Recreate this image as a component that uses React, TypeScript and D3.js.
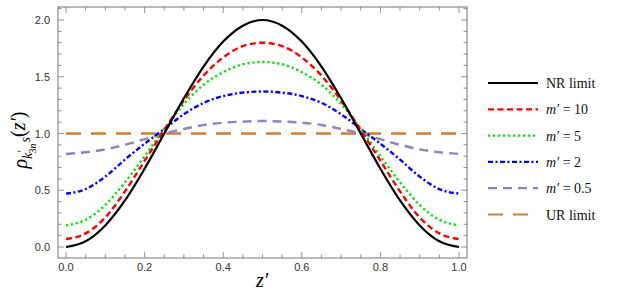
import React from 'react'
import * as d3 from 'd3'

// z' sample points (0 .. 1 step 0.05)
const zVals = [0, 0.05, 0.1, 0.15, 0.2, 0.25, 0.3, 0.35, 0.4, 0.45, 0.5,
  0.55, 0.6, 0.65, 0.7, 0.75, 0.8, 0.85, 0.9, 0.95, 1]

const nrLimit = [0, 0.05, 0.19, 0.41, 0.69, 1.0, 1.31, 1.59, 1.81, 1.95, 2.0,
  1.95, 1.81, 1.59, 1.31, 1.0, 0.69, 0.41, 0.19, 0.05, 0]
const m10 = [0.07, 0.12, 0.26, 0.49, 0.76, 1.03, 1.29, 1.51, 1.67, 1.77, 1.8,
  1.77, 1.67, 1.51, 1.29, 1.03, 0.76, 0.49, 0.26, 0.12, 0.07]
const m5 = [0.19, 0.24, 0.37, 0.57, 0.8, 1.04, 1.26, 1.43, 1.54, 1.61, 1.63,
  1.61, 1.54, 1.43, 1.26, 1.04, 0.8, 0.57, 0.37, 0.24, 0.19]
const m2 = [0.47, 0.51, 0.62, 0.77, 0.91, 1.04, 1.17, 1.27, 1.33, 1.36, 1.37,
  1.36, 1.33, 1.27, 1.17, 1.04, 0.91, 0.77, 0.62, 0.51, 0.47]
const m05 = [0.82, 0.835, 0.86, 0.9, 0.95, 1.0, 1.04, 1.075, 1.095, 1.105, 1.11,
  1.105, 1.095, 1.075, 1.04, 1.0, 0.95, 0.9, 0.86, 0.835, 0.82]
const urLimit = [1, 1, 1, 1, 1, 1, 1, 1, 1, 1, 1,
  1, 1, 1, 1, 1, 1, 1, 1, 1, 1]

const xTickLabels = ['0.0', '0.2', '0.4', '0.6', '0.8', '1.0']
const yTickLabels = ['0.0', '0.5', '1.0', '1.5', '2.0']

const series = [
  { name: 'NR limit', values: nrLimit, color: '#000000', dash: '', math: false },
  { name: '10', values: m10, color: '#ff0000', dash: '6,3.5', math: true },
  { name: '5', values: m5, color: '#00e600', dash: '2.2,2.8', math: true },
  { name: '2', values: m2, color: '#0000ff', dash: '5,2.5,2,2.5', math: true },
  { name: '0.5', values: m05, color: '#8c84c4', dash: '9,6', math: true },
  { name: 'UR limit', values: urLimit, color: '#cc8033', dash: '15,10', math: false },
]

const serif = 'Liberation Serif, DejaVu Serif, Times New Roman, serif'
const tickFont = 'Liberation Sans, Arial, sans-serif'

const App = () => {
  const x = d3.scaleLinear().domain([0, 1]).range([66, 459])
  const y = d3.scaleLinear().domain([0, 2]).range([247, 20])
  const frame = { left: 58, right: 467, top: 7, bottom: 258 }

  const line = (vals: number[]) =>
    d3.line<number>()
      .x((_, i) => x(zVals[i]))
      .y(d => y(d))
      .curve(d3.curveMonotoneX)(vals) || ''

  const xMinor = d3.range(0, 21).map(i => i * 0.05)
  const yMinor = d3.range(0, 22).map(i => i * 0.1)
  const tickCol = '#777'

  return (
    <svg width={623} height={292} style={{ position: 'absolute', left: 0, top: 0 }}>
      <rect width={623} height={292} fill="white" />
      <g>
        {series.slice().reverse().map(s => (
          <path key={s.name} d={line(s.values)} fill="none" stroke={s.color}
            strokeWidth={s.name === 'NR limit' ? 2.2 : 2.4} strokeDasharray={s.dash || undefined} />
        ))}
      </g>
      <rect x={frame.left} y={frame.top} width={frame.right - frame.left} height={frame.bottom - frame.top}
        fill="none" stroke={tickCol} strokeWidth={1} />
      {xMinor.map((v, i) => {
        const major = i % 4 === 0
        const len = major ? 6 : 3.5
        return (
          <g key={'xt' + i} stroke={tickCol} strokeWidth={0.8}>
            <line x1={x(v)} x2={x(v)} y1={frame.bottom} y2={frame.bottom - len} />
            <line x1={x(v)} x2={x(v)} y1={frame.top} y2={frame.top + len} />
          </g>
        )
      })}
      {xTickLabels.map((t, i) => (
        <text key={t} x={x(i * 0.2)} y={271} textAnchor="middle" fontSize={11}
          fontFamily={tickFont} fill="#333">{t}</text>
      ))}
      {yMinor.map((v, i) => {
        const major = i % 5 === 0
        const len = major ? 6 : 3.5
        return (
          <g key={'yt' + i} stroke={tickCol} strokeWidth={0.8}>
            <line x1={frame.left} x2={frame.left + len} y1={y(v)} y2={y(v)} />
            <line x1={frame.right} x2={frame.right - len} y1={y(v)} y2={y(v)} />
          </g>
        )
      })}
      {yTickLabels.map((t, i) => (
        <text key={t} x={50} y={y(i * 0.5) + 4} textAnchor="end" fontSize={11}
          fontFamily={tickFont} fill="#333">{t}</text>
      ))}
      <text x={262} y={287} textAnchor="middle" fontSize={20} fontStyle="italic" fontFamily={serif}>
        z′
      </text>
      <text transform="translate(27,140) rotate(-90)" textAnchor="middle" fontSize={20}
        fontStyle="italic" fontFamily={serif}>
        ρ
        <tspan fontSize={14} dy={5}>k</tspan>
        <tspan fontSize={10} dy={-7}>′</tspan>
        <tspan fontSize={10} dx={-3} dy={11} fontStyle="normal">3</tspan>
        <tspan fontSize={10}>n</tspan>
        <tspan fontSize={14} dx={1} dy={-6}>s</tspan>
        <tspan fontSize={20} fontStyle="normal" dy={-5}>(</tspan>
        <tspan fontSize={20}>z′</tspan>
        <tspan fontSize={20} fontStyle="normal">)</tspan>
      </text>
      {series.map((s, i) => {
        const cy = 83 + i * 26.3
        return (
          <g key={'lg' + s.name}>
            <line x1={488} x2={538} y1={cy} y2={cy} stroke={s.color} strokeWidth={2.2}
              strokeDasharray={s.dash || undefined} />
            <text x={546} y={cy + 5} fontSize={14} fontFamily={serif} fill="#111">
              {s.math ? (
                <>
                  <tspan fontStyle="italic">m′</tspan>
                  <tspan> = {s.name}</tspan>
                </>
              ) : s.name}
            </text>
          </g>
        )
      })}
    </svg>
  )
}

export default App
